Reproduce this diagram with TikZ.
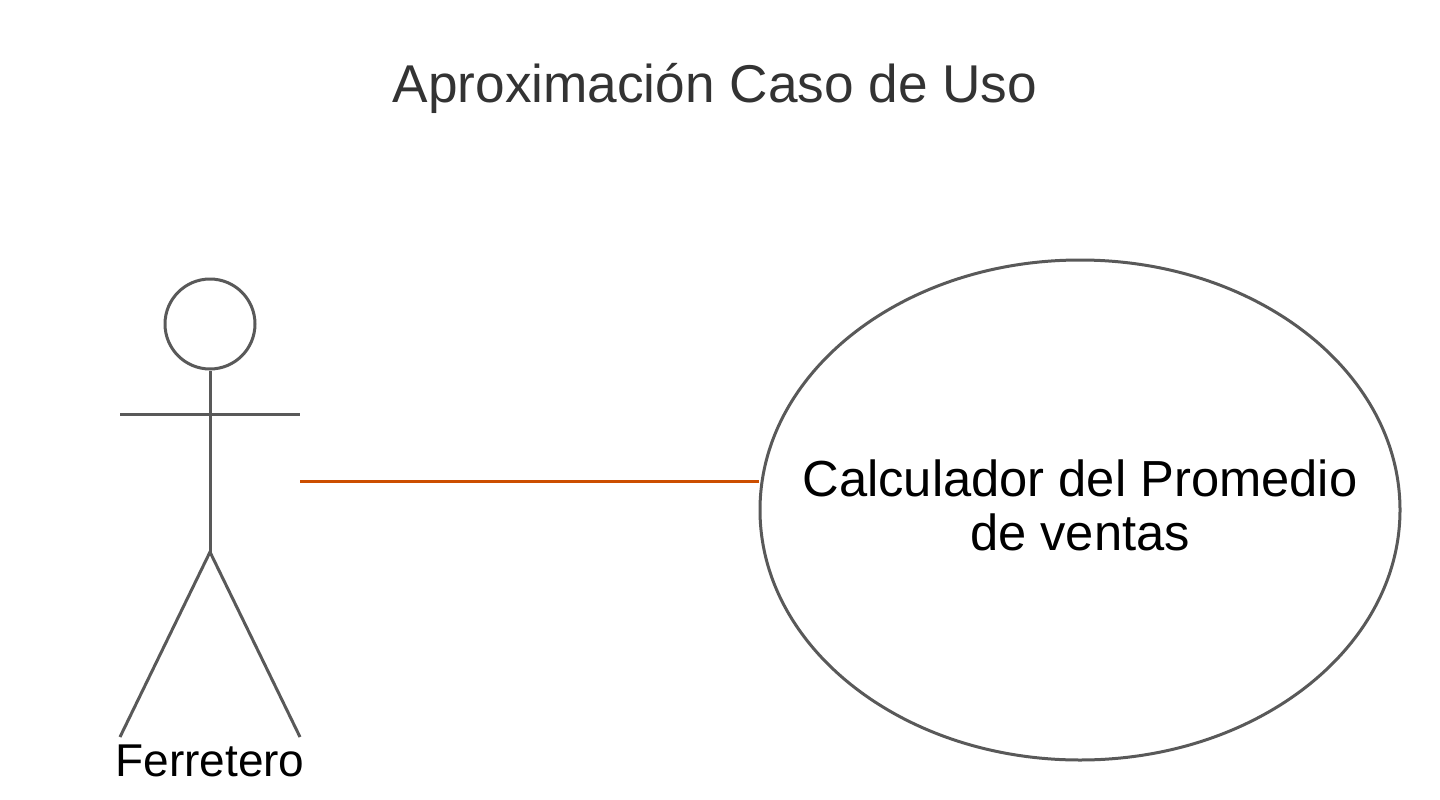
\documentclass[tikz,border=0pt]{standalone}
\usepackage{fontspec}
\setmainfont{Liberation Sans}
\usetikzlibrary{shapes.geometric,calc}
\definecolor{linegray}{HTML}{595959}
\definecolor{titlegray}{HTML}{333333}
\definecolor{assoc}{HTML}{CC4E00}
\begin{document}
\begin{tikzpicture}[x=1pt,y=-1pt,
  actorline/.style={draw=linegray,line width=3pt},
  usecase/.style={ellipse,draw=linegray,line width=3pt,minimum width=640pt,minimum height=500pt,inner sep=0pt},
  uctext/.style={align=center,inner sep=0pt,font=\fontsize{50.7}{54}\selectfont},
  association/.style={draw=assoc,line width=3pt}]
\useasboundingbox (0,0) rectangle (1440,800);
\node[anchor=base,text=titlegray,font=\fontsize{53.2}{60}\selectfont] (title) at (715,102) {Aproximación Caso de Uso};
% actor
\node[circle,draw=linegray,line width=3pt,minimum size=90pt,inner sep=0pt] (head) at (210,324) {};
\coordinate (hip) at (210,552);
\draw[actorline] (head.south) -- (hip);
\coordinate (larm) at (120,414);
\coordinate (rarm) at (300,414);
\draw[actorline] (larm) -- (rarm);
\coordinate (lfoot) at (120,737);
\coordinate (rfoot) at (300,737);
\draw[actorline] (lfoot) -- (hip) -- (rfoot);
\node[anchor=base,font=\fontsize{46}{50}\selectfont] (actorlabel) at (210,776) {Ferretero};
\coordinate (actor) at (300,481);
% use case
\node[usecase] (uc) at (1080,510) {};
\node[uctext] (uclabel) at (1080,505) {Calculador del Promedio\\de ventas};
\draw[association] (actor) -- (uc.west |- actor);
\end{tikzpicture}
\end{document}
